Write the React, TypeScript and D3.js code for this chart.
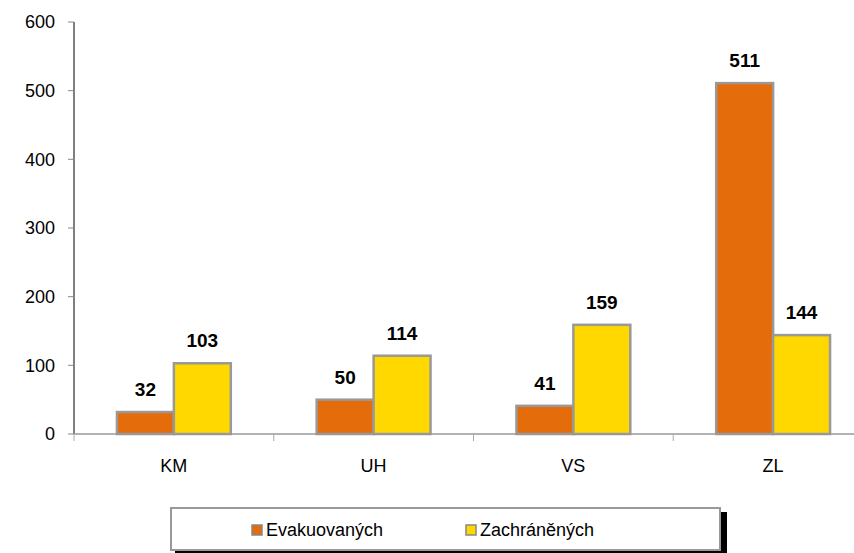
import React from "react";
import * as d3 from "d3";

const categories = ["KM", "UH", "VS", "ZL"];
const seriesNames = ["Evakuovaných", "Zachráněných"];
const evakuovanych = [32, 50, 41, 511];
const zachranenych = [103, 114, 159, 144];
const yTicks = [0, 100, 200, 300, 400, 500, 600];
const colors = ["#E46C0A", "#FFD800"];

const W = 854;
const H = 553;
const left = 74;
const right = 873;
const top = 22;
const bottom = 434;
const font = "'Liberation Sans', Arial, sans-serif";

export default function App() {
  const values = [evakuovanych, zachranenych];
  const y = d3.scaleLinear().domain([0, 600]).range([bottom, top]);
  const x0 = d3
    .scaleBand<string>()
    .domain(categories)
    .range([left, right])
    .paddingInner(0.43)
    .paddingOuter(0.215);
  const x1 = d3
    .scaleBand<string>()
    .domain(seriesNames)
    .range([0, x0.bandwidth()])
    .padding(0);
  const step = x0.step();
  const boundaries = d3.range(categories.length + 1).map((i) => left + i * step);

  return (
    <svg
      width={W}
      height={H}
      style={{ position: "absolute", left: 0, top: 0, background: "#fff" }}
      fontFamily={font}
    >
      <rect x={0} y={0} width={W} height={H} fill="#fff" />
      {/* y axis */}
      <line x1={left} x2={left} y1={top} y2={bottom} stroke="#000" strokeWidth={1} />
      {yTicks.map((t) => (
        <g key={t}>
          <line x1={left - 6} x2={left} y1={y(t)} y2={y(t)} stroke="#888" />
          <text x={55} y={y(t)} dy="0.36em" textAnchor="end" fontSize={18} fill="#000">
            {t}
          </text>
        </g>
      ))}
      {/* bars */}
      {categories.map((c, i) => (
        <g key={c} transform={`translate(${x0(c)},0)`}>
          {seriesNames.map((s, j) => {
            const v = values[j][i];
            const bx = x1(s)!;
            return (
              <g key={s}>
                <rect
                  x={bx}
                  y={y(v)}
                  width={x1.bandwidth()}
                  height={bottom - y(v)}
                  fill={colors[j]}
                  stroke="#999"
                  strokeWidth={2.5}
                />
                <text
                  x={bx + x1.bandwidth() / 2}
                  y={y(v) - 16}
                  textAnchor="middle"
                  fontSize={19}
                  fontWeight="bold"
                  fill="#000"
                >
                  {v}
                </text>
              </g>
            );
          })}
          <text
            x={x0.bandwidth() / 2}
            y={472}
            textAnchor="middle"
            fontSize={18}
            fill="#000"
          >
            {c}
          </text>
        </g>
      ))}
      {/* x axis */}
      <line x1={left} x2={W} y1={bottom} y2={bottom} stroke="#999" strokeWidth={1.5} />
      {boundaries.map((b, i) => (
        <line key={i} x1={b} x2={b} y1={bottom} y2={bottom + 7} stroke="#aaa" />
      ))}
      {/* legend */}
      <rect x={175} y={512} width={552} height={42} fill="#000" />
      <rect x={171} y={508} width={549} height={42} fill="#fff" stroke="#999" strokeWidth={2} />
      {seriesNames.map((s, j) => {
        const lx = [252, 466][j];
        return (
          <g key={s}>
            <rect x={lx} y={525} width={10} height={10} fill={colors[j]} stroke="#888" strokeWidth={1.5} />
            <text x={lx + 14} y={536} fontSize={18} fill="#000">
              {s}
            </text>
          </g>
        );
      })}
    </svg>
  );
}
